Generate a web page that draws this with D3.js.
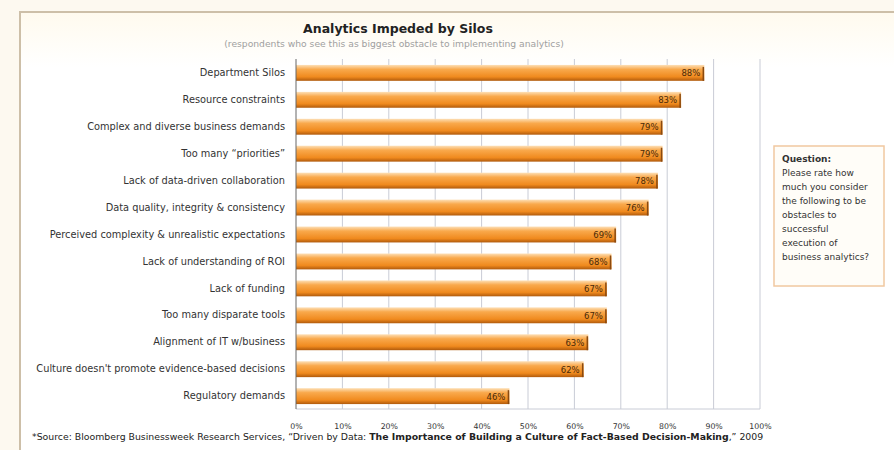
<!DOCTYPE html>
<html><head><meta charset="utf-8">
<script src="https://cdn.jsdelivr.net/npm/d3@7/dist/d3.min.js"></script>
<style>
html,body{margin:0;padding:0;background:#fdf9f0;}
svg{display:block;font-family:"DejaVu Sans","Liberation Sans",sans-serif;}
</style></head>
<body>
<svg id="chart" width="894" height="450"></svg>
<script>
const categories = [
  "Department Silos",
  "Resource constraints",
  "Complex and diverse business demands",
  "Too many \u201Cpriorities\u201D",
  "Lack of data-driven collaboration",
  "Data quality, integrity & consistency",
  "Perceived complexity & unrealistic expectations",
  "Lack of understanding of ROI",
  "Lack of funding",
  "Too many disparate tools",
  "Alignment of IT w/business",
  "Culture doesn't promote evidence-based decisions",
  "Regulatory demands"
];
const values = [88, 83, 79, 79, 78, 76, 69, 68, 67, 67, 63, 62, 46];
const tickValues = [0,10,20,30,40,50,60,70,80,90,100];
const title = "Analytics Impeded by Silos";
const subtitle = "(respondents who see this as biggest obstacle to implementing analytics)";
const questionLines = ["Please rate how","much you consider","the following to be","obstacles to","successful","execution of","business analytics?"];

const svg = d3.select("#chart");
const defs = svg.append("defs");
const g1 = defs.append("linearGradient").attr("id","barg").attr("x1",0).attr("y1",0).attr("x2",0).attr("y2",1);
g1.append("stop").attr("offset","0%").attr("stop-color","#fde0b8");
g1.append("stop").attr("offset","28%").attr("stop-color","#f9a94c");
g1.append("stop").attr("offset","75%").attr("stop-color","#f08a1e");
g1.append("stop").attr("offset","100%").attr("stop-color","#b05a0c");
const g2 = defs.append("linearGradient").attr("id","bgg").attr("x1",0).attr("y1",0).attr("x2",0).attr("y2",1);
g2.append("stop").attr("offset","0%").attr("stop-color","#fffaee");
g2.append("stop").attr("offset","12%").attr("stop-color","#ffffff");

function fitWidth(sel, target){
  const fs = parseFloat(sel.attr("font-size"));
  const w = sel.node().getComputedTextLength();
  sel.attr("font-size", fs*target/w);
}

// frame
svg.append("rect").attr("x",20).attr("y",12).attr("width",900).attr("height",460)
  .attr("fill","url(#bgg)").attr("stroke","#cdbfa8").attr("stroke-width",2);

const x = d3.scaleLinear().domain([0,100]).range([296,760]);
const y = d3.scaleBand().domain(categories).range([59,410]).paddingInner(0.41).paddingOuter(0.22);

// grid
svg.append("g").selectAll("line").data(tickValues.slice(1)).join("line")
  .attr("x1",d=>x(d)).attr("x2",d=>x(d)).attr("y1",59).attr("y2",409)
  .attr("stroke","#c9ccd6").attr("stroke-width",1);
svg.append("line").attr("x1",296).attr("x2",760).attr("y1",409).attr("y2",409).attr("stroke","#c9ccd6");

// bars
svg.append("g").selectAll("rect").data(values).join("rect")
  .attr("x",x(0)).attr("y",(d,i)=>y(categories[i]))
  .attr("width",d=>x(d)-x(0)).attr("height",y.bandwidth())
  .attr("fill","url(#barg)");
svg.append("g").selectAll("line").data(values).join("line")
  .attr("x1",d=>x(d)-1).attr("x2",d=>x(d)-1)
  .attr("y1",(d,i)=>y(categories[i])+2).attr("y2",(d,i)=>y(categories[i])+y.bandwidth())
  .attr("stroke","#8a4a10").attr("stroke-width",1.5);

// value labels
svg.append("g").selectAll("text").data(values).join("text")
  .attr("x",d=>x(d)-4).attr("y",(d,i)=>y(categories[i])+y.bandwidth()/2+3.5)
  .attr("text-anchor","end").attr("font-size",8.5).attr("fill","#4a2a08")
  .text(d=>d+"%");

// y axis
const ya = d3.axisLeft(y).tickSize(0).tickPadding(11);
const yg = svg.append("g").attr("transform","translate(296,0)").call(ya);
yg.attr("font-family",null);
yg.select(".domain").attr("stroke","#666").attr("d","M0,59V409");
yg.selectAll("text").attr("font-size",9.8).attr("fill","#333");

// x axis
const xa = d3.axisBottom(x).tickValues(tickValues).tickSize(0).tickPadding(9).tickFormat(d=>d+"%");
const xg = svg.append("g").attr("transform","translate(0,414)").call(xa);
xg.attr("font-family",null);
xg.select(".domain").remove();
xg.selectAll("text").attr("font-size",7.8).attr("fill","#333");

// titles
const tt = svg.append("text").attr("x",398).attr("y",33).attr("text-anchor","middle")
  .attr("font-size",13).attr("font-weight","bold").attr("fill","#222").text(title);
fitWidth(tt, 190);
const st = svg.append("text").attr("x",394).attr("y",47).attr("text-anchor","middle")
  .attr("font-size",8).attr("fill","#a0a0a0").text(subtitle);
fitWidth(st, 340);

// question box
svg.append("rect").attr("x",774).attr("y",146).attr("width",110).attr("height",140)
  .attr("fill","#fffdf8").attr("stroke","#f1c8a0").attr("stroke-width",1.5);
const qt = svg.append("text").attr("x",782).attr("y",162).attr("font-size",9).attr("fill","#333");
qt.append("tspan").attr("x",782).attr("dy",0).attr("font-weight","bold").text("Question:");
questionLines.forEach(l=>qt.append("tspan").attr("x",782).attr("dy",14).text(l));

// footnote
const ft = svg.append("text").attr("x",32).attr("y",440).attr("font-size",8).attr("fill","#222");
ft.append("tspan").text("*Source: Bloomberg Businessweek Research Services, \u201CDriven by Data: ");
ft.append("tspan").attr("font-weight","bold").text("The Importance of Building a Culture of Fact-Based Decision-Making");
ft.append("tspan").text(",\u201D 2009");
fitWidth(ft, 732);
</script>
</body></html>
